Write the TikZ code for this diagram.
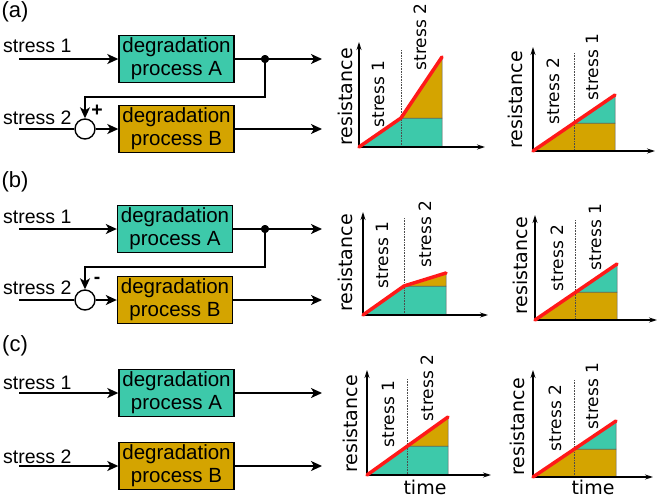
\documentclass[tikz,border=0pt]{standalone}
\usepackage{fontspec}
\setmainfont{Liberation Sans}
\newfontfamily\chartfont{DejaVu Sans}
\usetikzlibrary{arrows.meta}

\definecolor{procA}{RGB}{61,201,170}
\definecolor{procB}{RGB}{212,164,0}
\definecolor{curvered}{RGB}{255,25,25}

\tikzset{
    arr/.style={line width=1.5pt, -{Stealth[length=11pt,width=10pt,inset=3pt]}},
    ax/.style={line width=1.1pt, -{Stealth[length=8pt,width=5pt]}},
    procbox/.style={draw=black, line width=1.4pt, minimum width=115pt, minimum height=47pt,
        inner sep=0pt, align=center, font=\fontsize{20.5}{23}\selectfont},
    region/.style={draw=black!65, line width=0.5pt},
    divider/.style={densely dotted, line width=0.6pt, black!70},
    curve/.style={curvered, line width=3.5pt, line join=round, line cap=round},
    reslbl/.style={rotate=90, inner sep=0pt, font=\chartfont\fontsize{19}{19}\selectfont},
    stlbl/.style={rotate=90, inner sep=0pt, font=\chartfont\fontsize{17}{17}\selectfont},
    timelbl/.style={inner sep=0pt, font=\chartfont\fontsize{19}{19}\selectfont},
}

\begin{document}
\begin{tikzpicture}[x=1pt, y=-1pt]
    \useasboundingbox (0,0) rectangle (662,499);

    % block diagrams
    \begin{scope}[every node/.style={inner sep=0pt, font=\fontsize{19.5}{20}\selectfont}]
        \node (lab_a) at (15,12) {\fontsize{22}{22}\selectfont(a)};
        \node (lab_b) at (15,182) {\fontsize{22}{22}\selectfont(b)};
        \node (lab_c) at (15,346) {\fontsize{22}{22}\selectfont(c)};

        \node[anchor=west] (s1_a) at (3,46) {stress 1};
        \node[anchor=west] (s2_a) at (3,118) {stress 2};
        \node[anchor=west] (s1_b) at (3,217) {stress 1};
        \node[anchor=west] (s2_b) at (3,288) {stress 2};
        \node[anchor=west] (s1_c) at (3,383) {stress 1};
        \node[anchor=west] (s2_c) at (3,457) {stress 2};

        \node[procbox, fill=procA] (A_a) at (176.5,59) {degradation\\process A};
        \node[procbox, fill=procB] (B_a) at (176.5,129) {degradation\\process B};
        \node[procbox, fill=procA] (A_b) at (175,229) {degradation\\process A};
        \node[procbox, fill=procB] (B_b) at (175,300) {degradation\\process B};
        \node[procbox, fill=procA] (A_c) at (176.5,393) {degradation\\process A};
        \node[procbox, fill=procB] (B_c) at (176.5,466) {degradation\\process B};

        \node[circle, draw, line width=1.4pt, minimum size=20pt, fill=white] (sum_a) at (85,129) {};
        \node[circle, draw, line width=1.4pt, minimum size=20pt, fill=white] (sum_b) at (85,300) {};
        \node[circle, fill=black, minimum size=8pt] (dot_a) at (265,59) {};
        \node[circle, fill=black, minimum size=8pt] (dot_b) at (265,229) {};

        \node (plus_a) at (97,111) {\bfseries +};
        \node (minus_b) at (97,280) {\bfseries -};
    \end{scope}

    \coordinate (in1_a) at (19,59);
    \coordinate (in2_a) at (19,129);
    \coordinate (outA_a) at (322,59);
    \coordinate (outB_a) at (322,129);
    \coordinate (fb_a) at (85,97);

    \coordinate (in1_b) at (19,229);
    \coordinate (in2_b) at (19,300);
    \coordinate (outA_b) at (322,229);
    \coordinate (outB_b) at (322,300);
    \coordinate (fb_b) at (85,267);

    \coordinate (in1_c) at (19,393);
    \coordinate (in2_c) at (19,466);
    \coordinate (outA_c) at (322,393);
    \coordinate (outB_c) at (322,466);

    \begin{scope}[every path/.style={arr}]
        \draw (in1_a) -- (A_a);
        \draw (A_a) -- (outA_a);
        \draw (dot_a.center) |- (fb_a) -- (sum_a);
        \draw (sum_a) -- (B_a);
        \draw (B_a) -- (outB_a);

        \draw (in1_b) -- (A_b);
        \draw (A_b) -- (outA_b);
        \draw (dot_b.center) |- (fb_b) -- (sum_b);
        \draw (sum_b) -- (B_b);
        \draw (B_b) -- (outB_b);

        \draw (in1_c) -- (A_c);
        \draw (A_c) -- (outA_c);
        \draw (in2_c) -- (B_c);
        \draw (B_c) -- (outB_c);
    \end{scope}
    \draw[line width=1.5pt] (in2_a) -- (sum_a);
    \draw[line width=1.5pt] (in2_b) -- (sum_b);
    \fill (dot_a) circle (4pt);
    \fill (dot_b) circle (4pt);

    % (a) stress 1 then stress 2
    \coordinate (O_a1) at (359,147);
    \coordinate (K_a1) at (401,118);
    \coordinate (E_a1) at (442,57);
    \filldraw[region, fill=procA] (O_a1) -- (K_a1) -- (442,118) -- (442,147) -- cycle;
    \filldraw[region, fill=procB] (K_a1) -- (E_a1) -- (442,118) -- cycle;
    \draw[divider] (401,50) -- (401,147);
    \draw[ax] (O_a1) -- (359,42);
    \draw[ax] (O_a1) -- (485,147);
    \draw[curve] (O_a1) -- (K_a1) -- (E_a1);
    \node[reslbl] (res_a1) at (345,97) {resistance};
    \node[stlbl] (st1_a1) at (378,94) {stress 1};
    \node[stlbl] (st2_a1) at (420,37) {stress 2};

    % (a) stress 2 then stress 1
    \coordinate (O_a2) at (533,151);
    \coordinate (K_a2) at (574,123);
    \coordinate (E_a2) at (615,95);
    \filldraw[region, fill=procB] (O_a2) -- (K_a2) -- (615,123) -- (615,151) -- cycle;
    \filldraw[region, fill=procA] (K_a2) -- (E_a2) -- (615,123) -- cycle;
    \draw[divider] (574,53) -- (574,151);
    \draw[ax] (O_a2) -- (533,47);
    \draw[ax] (O_a2) -- (655,151);
    \draw[curve] (O_a2) -- (E_a2);
    \node[reslbl] (res_a2) at (515,100) {resistance};
    \node[stlbl] (st2_a2) at (553,91) {stress 2};
    \node[stlbl] (st1_a2) at (592,67) {stress 1};

    % (b) stress 1 then stress 2
    \coordinate (O_b1) at (363,315);
    \coordinate (K_b1) at (404,286);
    \coordinate (E_b1) at (446,273);
    \filldraw[region, fill=procA] (O_b1) -- (K_b1) -- (446,286) -- (446,315) -- cycle;
    \filldraw[region, fill=procB] (K_b1) -- (E_b1) -- (446,286) -- cycle;
    \draw[divider] (404,218) -- (404,315);
    \draw[ax] (O_b1) -- (363,212);
    \draw[ax] (O_b1) -- (488,315);
    \draw[curve] (O_b1) -- (K_b1) -- (E_b1);
    \node[reslbl] (res_b1) at (345,263) {resistance};
    \node[stlbl] (st1_b1) at (382,255) {stress 1};
    \node[stlbl] (st2_b1) at (425,234) {stress 2};

    % (b) stress 2 then stress 1
    \coordinate (O_b2) at (535,320);
    \coordinate (K_b2) at (575,292);
    \coordinate (E_b2) at (617,264);
    \filldraw[region, fill=procB] (O_b2) -- (K_b2) -- (617,292) -- (617,320) -- cycle;
    \filldraw[region, fill=procA] (K_b2) -- (E_b2) -- (617,292) -- cycle;
    \draw[divider] (575,220) -- (575,320);
    \draw[ax] (O_b2) -- (535,215);
    \draw[ax] (O_b2) -- (657,320);
    \draw[curve] (O_b2) -- (E_b2);
    \node[reslbl] (res_b2) at (520,266) {resistance};
    \node[stlbl] (st2_b2) at (557,258) {stress 2};
    \node[stlbl] (st1_b2) at (595,237) {stress 1};

    % (c) stress 1 then stress 2
    \coordinate (O_c1) at (367,475);
    \coordinate (K_c1) at (407,446);
    \coordinate (E_c1) at (448,417);
    \filldraw[region, fill=procA] (O_c1) -- (K_c1) -- (448,446) -- (448,475) -- cycle;
    \filldraw[region, fill=procB] (K_c1) -- (E_c1) -- (448,446) -- cycle;
    \draw[divider] (407,379) -- (407,475);
    \draw[ax] (O_c1) -- (367,370);
    \draw[ax] (O_c1) -- (491,475);
    \draw[curve] (O_c1) -- (E_c1);
    \node[reslbl] (res_c1) at (350,424) {resistance};
    \node[stlbl] (st1_c1) at (388,414) {stress 1};
    \node[stlbl] (st2_c1) at (427,388) {stress 2};
    \node[timelbl] (time_c1) at (425,487.5) {time};

    % (c) stress 2 then stress 1
    \coordinate (O_c2) at (533,477);
    \coordinate (K_c2) at (574,449);
    \coordinate (E_c2) at (616,421);
    \filldraw[region, fill=procB] (O_c2) -- (K_c2) -- (616,449) -- (616,477) -- cycle;
    \filldraw[region, fill=procA] (K_c2) -- (E_c2) -- (616,449) -- cycle;
    \draw[divider] (574,380) -- (574,477);
    \draw[ax] (O_c2) -- (533,370);
    \draw[ax] (O_c2) -- (653,477);
    \draw[curve] (O_c2) -- (E_c2);
    \node[reslbl] (res_c2) at (517,427) {resistance};
    \node[stlbl] (st2_c2) at (555,418) {stress 2};
    \node[stlbl] (st1_c2) at (592,396) {stress 1};
    \node[timelbl] (time_c2) at (593,487.5) {time};
\end{tikzpicture}
\end{document}
